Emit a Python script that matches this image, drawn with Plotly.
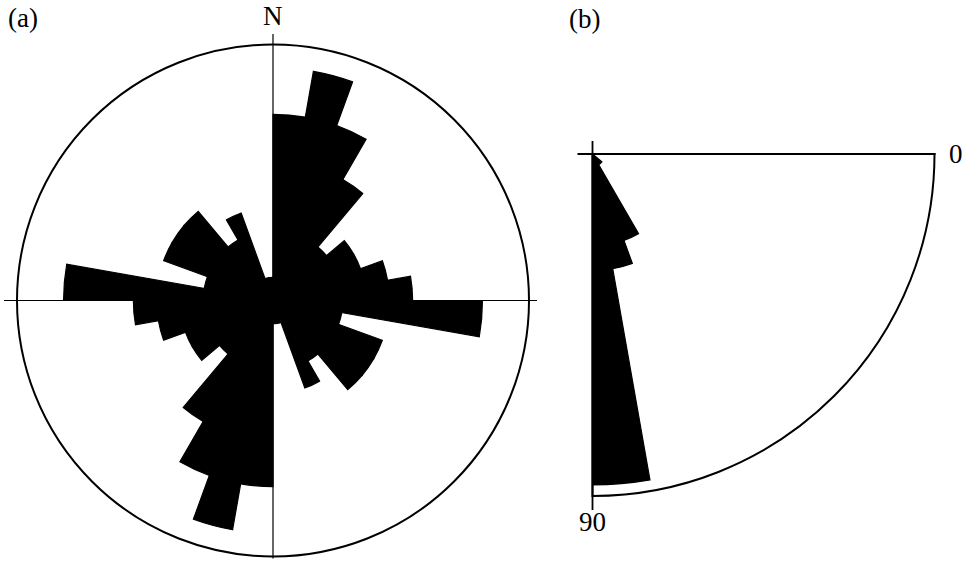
import math
import plotly.graph_objects as go

# ---- data -------------------------------------------------------------
# (a) strike rose: counts per 10-degree bin from 0 to 180 (bidirectional,
#     each bin is repeated on the opposite side, 180-360)
strike_bin_start = [0, 10, 20, 30, 40, 50, 60, 70, 80,
                    90, 100, 110, 120, 130, 140, 150, 160, 170]
strike_counts = [8, 10, 8, 6, 3, 4, 4, 5, 6,
                 9, 3, 5, 5, 5, 3, 4, 1, 1]
strike_r_max = 11

# (b) dip histogram: counts per 10-degree dip bin (0 = horizontal, 90 = vertical)
dip_bin_start = [40, 50, 60, 70, 80]
dip_counts = [2, 2, 15, 19, 54]
dip_r_max = 55.8

BIN = 10

# ---- page geometry (pixels) -------------------------------------------
W, H = 968, 561
A_CX, A_CY, A_R = 273, 300.5, 256          # rose centre / radius
B_CX, B_CY, B_R = 592.5, 154, 342          # dip quadrant apex / radius
B_SECTOR = [270, 360]                      # lower-right quadrant


def sector_bbox(sector):
    """Bounding box of a polar sector on the unit circle (same rules plotly uses)."""
    s0, s1 = sector
    a0 = s0 % 360
    a1 = a0 + (s1 - s0)
    ax0, ay0 = math.cos(math.radians(a0)), math.sin(math.radians(a0))
    ax1, ay1 = math.cos(math.radians(a1)), math.sin(math.radians(a1))

    def spans(t):
        return (a0 <= t <= a1) or (a0 <= t + 360 <= a1)

    y1 = 1 if spans(90) else (0 if (ay0 <= 0 and ay1 <= 0) else max(ay0, ay1))
    y0 = -1 if spans(270) else (0 if (ay0 >= 0 and ay1 >= 0) else min(ay0, ay1))
    x1 = 1 if spans(0) else (0 if (ax0 <= 0 and ax1 <= 0) else max(ax0, ax1))
    x0 = -1 if spans(180) else (0 if (ax0 >= 0 and ax1 >= 0) else min(ax0, ax1))
    return x0, y0, x1, y1


def polar_domain(cx, cy, r, sector=(0, 360)):
    x0, y0, x1, y1 = sector_bbox(sector)
    left, right = cx + r * x0, cx + r * x1
    top, bottom = cy - r * y1, cy - r * y0
    return dict(x=[left / W, right / W], y=[1 - bottom / H, 1 - top / H])


def px(x, y):
    return x / W, 1 - y / H


# ---- traces -----------------------------------------------------------
theta_a = [s + BIN / 2 for s in strike_bin_start] + \
          [s + 180 + BIN / 2 for s in strike_bin_start]
r_a = strike_counts + strike_counts

theta_b = [s + BIN / 2 for s in dip_bin_start]

bar_marker = dict(color="black", line=dict(color="black", width=1.2))

fig = go.Figure()
fig.add_trace(go.Barpolar(
    r=r_a, theta=theta_a, width=[BIN] * len(theta_a),
    marker=bar_marker, subplot="polar", hoverinfo="skip", showlegend=False,
))
fig.add_trace(go.Barpolar(
    r=dip_counts, theta=theta_b, width=[BIN] * len(theta_b),
    marker=bar_marker, subplot="polar2", hoverinfo="skip", showlegend=False,
))

hidden_radial = dict(visible=False, showgrid=False, showline=False,
                     showticklabels=False, ticks="")

fig.update_layout(
    template="none",
    width=W, height=H,
    margin=dict(l=0, r=0, t=0, b=0),
    paper_bgcolor="white",
    showlegend=False,
    bargap=0,
    polar=dict(
        domain=polar_domain(A_CX, A_CY, A_R),
        bgcolor="white",
        radialaxis=dict(range=[0, strike_r_max], **hidden_radial),
        angularaxis=dict(direction="clockwise", rotation=90,
                         showgrid=False, showticklabels=False, ticks="",
                         showline=True, linecolor="black", linewidth=2),
    ),
    polar2=dict(
        domain=polar_domain(B_CX, B_CY, B_R, B_SECTOR),
        sector=B_SECTOR,
        bgcolor="white",
        radialaxis=dict(range=[0, dip_r_max], **hidden_radial),
        angularaxis=dict(direction="clockwise", rotation=0,
                         showgrid=False, showticklabels=False, ticks="",
                         showline=True, linecolor="black", linewidth=2),
    ),
)

# ---- reference lines --------------------------------------------------
def hline(x0, x1, y, w):
    (px0, py), (px1, _) = px(x0, y), px(x1, y)
    fig.add_shape(type="line", xref="paper", yref="paper",
                  x0=px0, x1=px1, y0=py, y1=py,
                  line=dict(color="black", width=w), layer="above")


def vline(x, y0, y1, w):
    (pxx, py0), (_, py1) = px(x, y0), px(x, y1)
    fig.add_shape(type="line", xref="paper", yref="paper",
                  x0=pxx, x1=pxx, y0=py0, y1=py1,
                  line=dict(color="black", width=w), layer="above")


# N-S and E-W lines through the rose
vline(A_CX, 34, A_CY + A_R + 2, 1.2)
hline(4, 537, A_CY, 1.2)
# horizontal (0) and vertical (90) lines of the dip quadrant
hline(B_CX - 15, B_CX + B_R + 1, B_CY, 1.8)
vline(B_CX, B_CY - 13, B_CY + B_R + 14, 1.8)

# ---- labels -----------------------------------------------------------
label_font = dict(family="Liberation Serif, Times New Roman, serif",
                  size=27, color="black")


def label(text, x, y):
    pxx, pyy = px(x, y)
    fig.add_annotation(text=text, x=pxx, y=pyy, xref="paper", yref="paper",
                       showarrow=False, xanchor="center", yanchor="middle",
                       font=label_font)


label("(a)", 23, 18)
label("N", A_CX, 16)
label("(b)", 584, 19)
label("0", 956, 154)
label("90", B_CX, 522)

fig.write_html("out.html")
